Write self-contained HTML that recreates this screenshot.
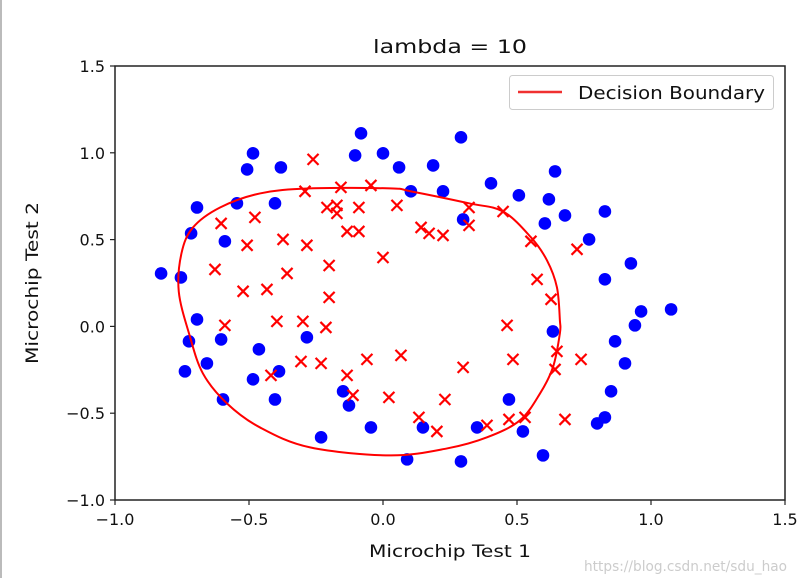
<!DOCTYPE html>
<html><head><meta charset="utf-8"><style>
html,body{margin:0;padding:0;background:#fff;}
svg{display:block;font-family:"DejaVu Sans","Liberation Sans",sans-serif;}
</style></head><body>
<svg id="chart" width="798" height="578" viewBox="0 0 798 578">
<line x1="1" y1="0" x2="1" y2="578" stroke="#bbb" stroke-width="2"/>
<text x="450" y="53" font-size="19" text-anchor="middle" textLength="154" lengthAdjust="spacingAndGlyphs" fill="#111">lambda = 10</text>
<g id="plot"></g>
<g id="xticks"></g>
<g id="yticks"></g>
<text x="450" y="557" font-size="17" text-anchor="middle" textLength="162" lengthAdjust="spacingAndGlyphs" fill="#111">Microchip Test 1</text>
<text transform="translate(38,283) rotate(-90)" font-size="17" text-anchor="middle" textLength="162" lengthAdjust="spacingAndGlyphs" fill="#111">Microchip Test 2</text>
<g>
<rect x="509.5" y="75.5" width="264" height="34" rx="3" fill="#fff" stroke="#ccc"/>
<line x1="518" y1="92" x2="562" y2="92" stroke="#f03030" stroke-width="2.5"/>
<text x="578" y="99" font-size="18" textLength="187" lengthAdjust="spacingAndGlyphs" fill="#111">Decision Boundary</text>
</g>
<text x="787" y="571" font-size="14" text-anchor="end" textLength="203" lengthAdjust="spacingAndGlyphs" fill="#ccc">https://blog.csdn.net/sdu_hao</text>
</svg>
<script>
const posX=[-0.828,-0.754,-0.716,-0.694,-0.590,-0.545,-0.403,-0.507,-0.485,-0.381,-0.082,-0.104,0,0.060,0.187,0.291,0.104,0.224,0.403,0.507,0.619,0.642,0.679,0.604,0.299,0.828,0.769,0.925,0.828,0.963,1.075,0.940,0.634,0.866,0.903,0.851,0.828,0.799,0.470,0.149,0.351,0.522,0.597,0.090,0.291,-0.694,-0.724,-0.604,-0.463,-0.657,-0.739,-0.388,-0.485,-0.284,-0.597,-0.403,-0.149,-0.127,-0.231,-0.045];
const posY=[0.305,0.282,0.536,0.685,0.490,0.709,0.709,0.904,0.997,0.916,1.112,0.985,0.997,0.916,0.927,1.089,0.778,0.778,0.824,0.755,0.732,0.893,0.639,0.593,0.616,0.662,0.501,0.363,0.271,0.086,0.098,0.006,-0.029,-0.086,-0.213,-0.374,-0.524,-0.559,-0.421,-0.582,-0.582,-0.605,-0.743,-0.766,-0.778,0.040,-0.086,-0.075,-0.132,-0.213,-0.259,-0.259,-0.305,-0.063,-0.421,-0.421,-0.374,-0.455,-0.639,-0.582];
const negX=[-0.261,-0.291,-0.157,-0.045,-0.604,-0.478,-0.209,-0.172,-0.172,-0.090,-0.134,-0.090,0,-0.507,-0.373,-0.284,-0.627,-0.358,-0.201,-0.522,-0.433,-0.201,-0.590,-0.396,-0.299,-0.213,0.052,0.321,0.448,0.321,0.142,0.172,0.224,0.552,0.724,0.575,0.627,0.463,0.649,0.642,0.739,0.067,0.299,0.485,0.022,0.231,0.134,0.201,0.388,0.470,0.530,0.679,-0.306,-0.231,-0.060,-0.134,-0.418,-0.112];
const negY=[0.962,0.778,0.801,0.812,0.593,0.628,0.685,0.697,0.651,0.685,0.547,0.547,0.397,0.467,0.501,0.467,0.328,0.305,0.351,0.202,0.213,0.167,0.006,0.029,0.029,-0.006,0.697,0.685,0.662,0.582,0.570,0.536,0.524,0.490,0.444,0.271,0.156,0.006,-0.144,-0.248,-0.190,-0.167,-0.236,-0.190,-0.409,-0.421,-0.524,-0.605,-0.570,-0.536,-0.524,-0.536,-0.202,-0.213,-0.190,-0.282,-0.282,-0.397];
const bndX=[-0.752,-0.709,-0.608,-0.459,-0.272,0.026,0.104,0.321,0.448,0.552,0.612,0.649,0.660,0.660,0.634,0.586,0.511,0.388,0.239,0.026,-0.272,-0.459,-0.582,-0.672,-0.722,-0.762];
const bndY=[0.421,0.570,0.685,0.766,0.795,0.795,0.778,0.709,0.662,0.513,0.380,0.225,0.035,-0.040,-0.236,-0.386,-0.541,-0.639,-0.703,-0.743,-0.697,-0.582,-0.444,-0.271,-0.050,0.200];
const xTicks=[-1.0,-0.5,0.0,0.5,1.0,1.5];
const yTicks=[-1.0,-0.5,0.0,0.5,1.0,1.5];
const xTickLabels=["\u22121.0","\u22120.5","0.0","0.5","1.0","1.5"];
const yTickLabels=["\u22121.0","\u22120.5","0.0","0.5","1.0","1.5"];

const L=115,R=785,T=66,B=500;
const sx=v=>L+(v+1)/2.5*(R-L);
const sy=v=>B-(v+1)/2.5*(B-T);
const NS="http://www.w3.org/2000/svg";
function mk(tag,attrs,parent){const e=document.createElementNS(NS,tag);for(const k in attrs)e.setAttribute(k,attrs[k]);parent.appendChild(e);return e;}
const plot=document.getElementById('plot');
const frame=mk('rect',{x:L,y:T,width:R-L,height:B-T,fill:'#fff',stroke:'#222','stroke-width':1.5},plot);


for(let i=0;i<posX.length;i++){
  const c=mk('circle',{cx:sx(posX[i]),cy:sy(posY[i]),r:6.3,fill:'#0000ff'},plot);
  
  
}
for(let i=0;i<negX.length;i++){
  const x=sx(negX[i]),y=sy(negY[i]),d=5.5;
  const p=mk('path',{d:`M${x-d},${y-d}L${x+d},${y+d}M${x-d},${y+d}L${x+d},${y-d}`,stroke:'#ff0000','stroke-width':2.2,fill:'none'},plot);
  
  
}
const n=bndX.length;const P=[];for(let i=0;i<n;i++)P.push([sx(bndX[i]),sy(bndY[i])]);
let d=`M${P[0][0]},${P[0][1]}`;
for(let i=0;i<n;i++){const p0=P[(i-1+n)%n],p1=P[i],p2=P[(i+1)%n],p3=P[(i+2)%n];
d+=`C${p1[0]+(p2[0]-p0[0])/6},${p1[1]+(p2[1]-p0[1])/6} ${p2[0]-(p3[0]-p1[0])/6},${p2[1]-(p3[1]-p1[1])/6} ${p2[0]},${p2[1]}`;}
const bp=mk('path',{d:d+'Z',stroke:'#ff0000','stroke-width':2,fill:'none'},plot);


const xg=document.getElementById('xticks');
xTicks.forEach((v,i)=>{const x=sx(v);
  const t=mk('line',{x1:x,y1:B,x2:x,y2:B+5,stroke:'#222','stroke-width':1.2},xg);
  
  
  const tx=mk('text',{x:x,y:B+25,'font-size':16,'text-anchor':'middle',fill:'#111'},xg);tx.textContent=xTickLabels[i];
  
  
});
const yg=document.getElementById('yticks');
yTicks.forEach((v,i)=>{const y=sy(v);
  const t=mk('line',{x1:L-5,y1:y,x2:L,y2:y,stroke:'#222','stroke-width':1.2},yg);
  
  
  const tx=mk('text',{x:L-10,y:y+6,'font-size':16,'text-anchor':'end',fill:'#111'},yg);tx.textContent=yTickLabels[i];
  
  
});
</script>
</body></html>
